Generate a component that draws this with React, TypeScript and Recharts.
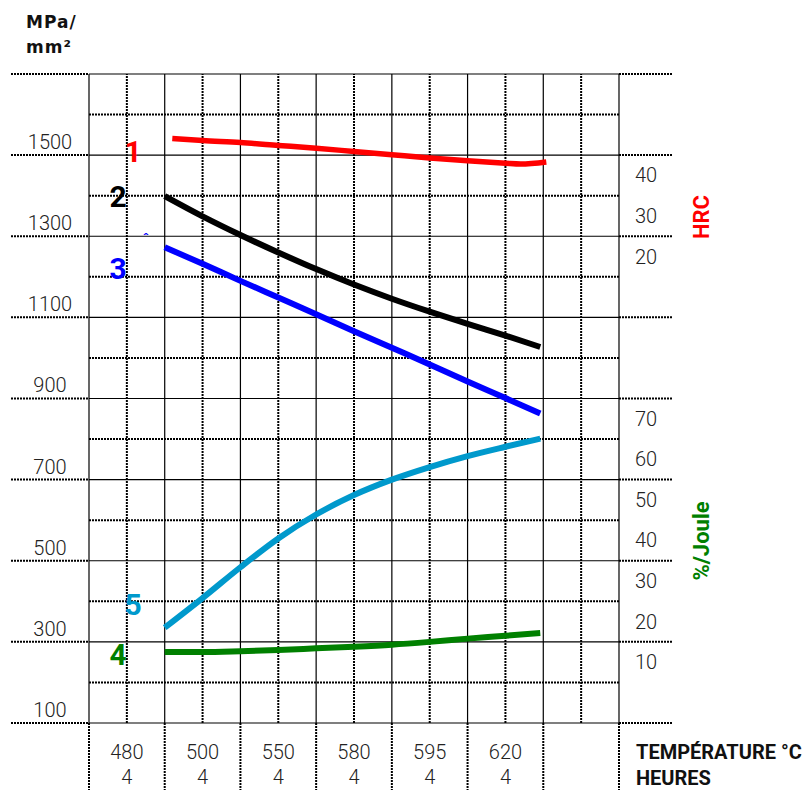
import React from 'react'
import { LineChart, Line, XAxis, YAxis, ReferenceLine } from 'recharts'

// x positions are in grid-column units (0 = left border, 7 = right border)
const pos = [1, 1.5, 2, 2.5, 3, 3.5, 4, 4.5, 5, 5.5, 5.96]
const posRed = [1.1, 1.5, 2, 2.5, 3, 3.5, 4, 4.5, 5, 5.5, 5.7, 6.04]

// curve 1 in HRC, curves 2 and 3 in MPa, curves 4 and 5 in %/Joule
const curve1 = [49.1, 48.6, 48.1, 47.4, 46.7, 45.9, 45.1, 44.3, 43.6, 43.0, 42.8, 43.3]
const curve2 = [1399, 1349, 1303, 1260, 1219, 1181, 1146, 1114, 1084, 1055, 1027]
const curve3 = [1273, 1232, 1190, 1149, 1108, 1066, 1025, 984, 942, 901, 863]
const curve4 = [12.5, 12.5, 12.7, 13.0, 13.4, 13.8, 14.3, 15.0, 15.8, 16.5, 17.2]
const curve5 = [18.5, 25.8, 33.4, 40.5, 46.4, 51.2, 55.0, 58.1, 60.8, 63.1, 65.1]

const temperatures = ['480', '500', '550', '580', '595', '620', '']
const hours = ['4', '4', '4', '4', '4', '4', '']
const tempTicks = [0.5, 1.5, 2.5, 3.5, 4.5, 5.5, 6.5]
const columnTicks = [0, 1, 2, 3, 4, 5, 6, 7]

const mpaTicks = [100, 300, 500, 700, 900, 1100, 1300, 1500, 1700]
const mpaMinor = [200, 400, 600, 800, 1000, 1200, 1400, 1600]
const hrcTicks = [40, 30, 20]
const jouleTicks = [70, 60, 50, 40, 30, 20, 10]

const TINY = 0.001
const DOT = { stroke: '#000', strokeWidth: 2, strokeDasharray: '2 1' }
const NUM_FONT = { fontFamily: 'Roboto, sans-serif', fontSize: 20, fontWeight: 300, fill: '#222' }
const BOLD = { fontFamily: 'Roboto, sans-serif', fontWeight: 700 }

const toPoints = (xs: number[], ys: number[]) => xs.map((x, i) => ({ x, y: ys[i] }))

function LeftTick({ x, y, payload }: any) {
  return (
    <g>
      <line x1={x - 78} x2={x} y1={y} y2={y} {...DOT} />
      {payload.value < 1700 && (
        <text x={x - 39} y={y - 13} textAnchor="middle" dominantBaseline="central" {...NUM_FONT}>
          {payload.value}
        </text>
      )}
    </g>
  )
}

function RightExtTick({ x, y }: any) {
  return <line x1={x} x2={x + 53} y1={y} y2={y} {...DOT} />
}

function RightLabelTick({ x, y, payload }: any) {
  return (
    <text x={x + 27} y={y} textAnchor="middle" dominantBaseline="central" {...NUM_FONT}>
      {payload.value}
    </text>
  )
}

function BottomExtTick({ x, y }: any) {
  return <line x1={x} x2={x} y1={y} y2={y + 67} {...DOT} />
}

function TempTick({ x, y, index }: any) {
  return (
    <g>
      <text x={x} y={y + 29} textAnchor="middle" dominantBaseline="central" {...NUM_FONT}>
        {temperatures[index]}
      </text>
      <text x={x} y={y + 54} textAnchor="middle" dominantBaseline="central" {...NUM_FONT}>
        {hours[index]}
      </text>
    </g>
  )
}

export default function App() {
  return (
    <div style={{ position: 'absolute', left: 0, top: 0, width: 805, height: 790, background: '#fff' }}>
      <LineChart width={805} height={790} margin={{ top: 74, right: 186, bottom: 67, left: 0 }}>
        <XAxis xAxisId="grid" dataKey="x" type="number" domain={[0, 7]} ticks={columnTicks} interval={0}
          height={TINY} tickSize={0} tickMargin={0} axisLine={false} tickLine={false} tick={<BottomExtTick />} />
        <XAxis xAxisId="temp" dataKey="x" type="number" domain={[0, 7]} ticks={tempTicks} interval={0}
          height={TINY} tickSize={0} tickMargin={0} axisLine={false} tickLine={false} tick={<TempTick />} />
        <YAxis yAxisId="mpa" type="number" domain={[100, 1700]} ticks={mpaTicks} interval={0}
          width={89} tickSize={0} tickMargin={0} axisLine={false} tickLine={false} tick={<LeftTick />} />
        <YAxis yAxisId="ext" orientation="right" type="number" domain={[100, 1700]} ticks={mpaTicks} interval={0}
          width={TINY} tickSize={0} tickMargin={0} axisLine={false} tickLine={false} tick={<RightExtTick />} />
        <YAxis yAxisId="hrc" orientation="right" type="number" domain={[-95, 65]} ticks={hrcTicks} interval={0}
          width={TINY} tickSize={0} tickMargin={0} axisLine={false} tickLine={false} tick={<RightLabelTick />} />
        <YAxis yAxisId="joule" orientation="right" type="number" domain={[-5, 155]} ticks={jouleTicks} interval={0}
          width={TINY} tickSize={0} tickMargin={0} axisLine={false} tickLine={false} tick={<RightLabelTick />} />

        {mpaMinor.map((v) => (
          <ReferenceLine key={'hm' + v} xAxisId="grid" yAxisId="mpa" y={v} {...DOT} />
        ))}
        {tempTicks.map((v) => (
          <ReferenceLine key={'vm' + v} xAxisId="grid" yAxisId="mpa" x={v} {...DOT} />
        ))}
        {mpaTicks.map((v) => (
          <ReferenceLine key={'h' + v} xAxisId="grid" yAxisId="mpa" y={v} stroke="#000" strokeWidth={1.2} />
        ))}
        {columnTicks.map((v) => (
          <ReferenceLine key={'v' + v} xAxisId="grid" yAxisId="mpa" x={v} stroke="#000" strokeWidth={1.2} />
        ))}

        <Line xAxisId="temp" yAxisId="hrc" data={toPoints(posRed, curve1)} dataKey="y" type="monotone"
          stroke="#ff0000" strokeWidth={5.5} dot={false} isAnimationActive={false} />
        <Line xAxisId="grid" yAxisId="mpa" data={toPoints(pos, curve2)} dataKey="y" type="monotone"
          stroke="#000000" strokeWidth={6} dot={false} isAnimationActive={false} />
        <Line xAxisId="grid" yAxisId="ext" data={toPoints(pos, curve3)} dataKey="y" type="monotone"
          stroke="#0000ff" strokeWidth={6} dot={false} isAnimationActive={false} />
        <Line xAxisId="grid" yAxisId="joule" data={toPoints(pos, curve4)} dataKey="y" type="monotone"
          stroke="#008000" strokeWidth={6} dot={false} isAnimationActive={false} />
        <Line xAxisId="temp" yAxisId="joule" data={toPoints(pos, curve5)} dataKey="y" type="monotone"
          stroke="#0099cc" strokeWidth={6} dot={false} isAnimationActive={false} />
      </LineChart>

      <svg width={805} height={790} style={{ position: 'absolute', left: 0, top: 0, pointerEvents: 'none' }}>
        <text x={26} y={28} fontFamily="DejaVu Sans, sans-serif" fontWeight={700} fontSize={17} letterSpacing={1} fill="#111">MPa/</text>
        <text x={26} y={53} fontFamily="DejaVu Sans, sans-serif" fontWeight={700} fontSize={17} letterSpacing={1} fill="#111">mm²</text>

        <text x={133} y={151} textAnchor="middle" dominantBaseline="central" {...BOLD} fontSize={30} fill="#ff0000">1</text>
        <text x={118} y={196} textAnchor="middle" dominantBaseline="central" {...BOLD} fontSize={30} fill="#000">2</text>
        <text x={146} y={244} textAnchor="middle" {...BOLD} fontSize={14} fill="#0000ff">ˆ</text>
        <text x={118} y={268} textAnchor="middle" dominantBaseline="central" {...BOLD} fontSize={30} fill="#0000ff">3</text>
        <text x={133} y={604} textAnchor="middle" dominantBaseline="central" {...BOLD} fontSize={30} fill="#0099cc">5</text>
        <text x={118} y={654} textAnchor="middle" dominantBaseline="central" {...BOLD} fontSize={30} fill="#008000">4</text>

        <text transform="translate(701,217) rotate(-90)" textAnchor="middle" dominantBaseline="central" {...BOLD} fontSize={22} fill="#ff0000">HRC</text>
        <text transform="translate(701,541) rotate(-90)" textAnchor="middle" dominantBaseline="central" {...BOLD} fontSize={22} fill="#008000">%/Joule</text>

        <text x={636} y={759} {...BOLD} fontSize={20} fill="#111">TEMPÉRATURE °C</text>
        <text x={636} y={785} {...BOLD} fontSize={20} fill="#111">HEURES</text>
      </svg>
    </div>
  )
}
